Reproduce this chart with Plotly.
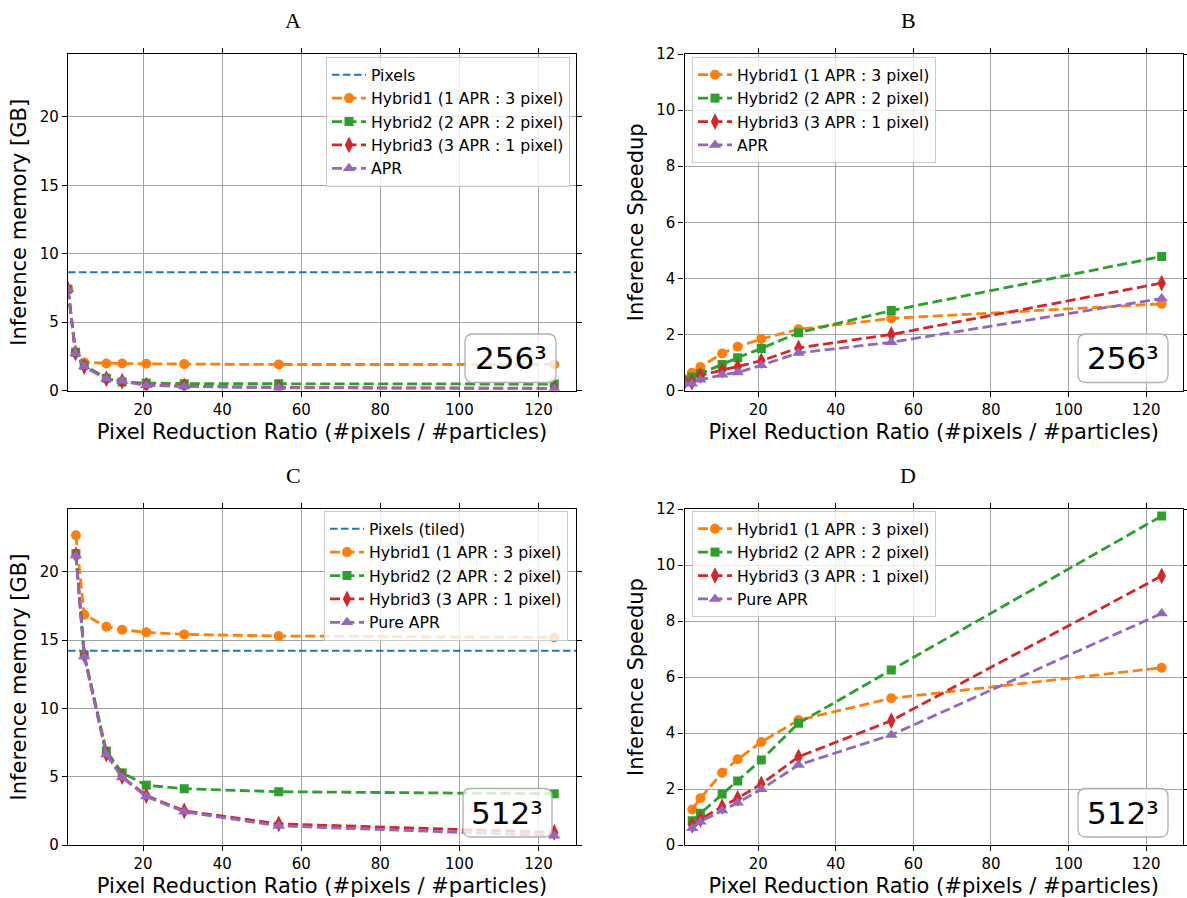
import plotly.graph_objects as go

# ---------------- data ----------------
x_256 = [1, 2.9, 5.1, 10.7, 14.7, 20.8, 30.4, 54.3, 124]
x_512 = [3.0, 5.1, 10.7, 14.7, 20.8, 30.4, 54.3, 124]

# A: inference memory [GB], 256^3
mem256_pixels = 8.65
mem256_h1 = [7.4, 2.75, 2.05, 1.98, 1.97, 1.95, 1.93, 1.9, 1.9]
mem256_h2 = [7.4, 2.8, 1.85, 0.9, 0.62, 0.55, 0.5, 0.5, 0.47]
mem256_h3 = [7.4, 2.75, 1.75, 0.85, 0.68, 0.4, 0.32, 0.22, 0.16]
mem256_apr = [7.4, 2.7, 1.75, 0.85, 0.7, 0.38, 0.3, 0.2, 0.15]

# B: inference speedup, 256^3
sp256_h1 = [0.4, 0.63, 0.84, 1.32, 1.56, 1.84, 2.18, 2.57, 3.09]
sp256_h2 = [0.35, 0.48, 0.6, 0.93, 1.17, 1.5, 2.06, 2.85, 4.78]
sp256_h3 = [0.3, 0.3, 0.54, 0.72, 0.84, 1.06, 1.52, 2.0, 3.83]
sp256_apr = [0.25, 0.24, 0.38, 0.56, 0.64, 0.9, 1.34, 1.72, 3.28]

# C: inference memory [GB], 512^3
mem512_pixels = 14.23
mem512_h1 = [22.68, 16.86, 15.98, 15.76, 15.57, 15.42, 15.3, 15.2]
mem512_h2 = [21.33, 13.93, 6.88, 5.28, 4.38, 4.12, 3.9, 3.75]
mem512_h3 = [21.25, 13.9, 6.65, 5.0, 3.62, 2.5, 1.55, 0.92]
mem512_apr = [21.2, 13.8, 6.62, 4.95, 3.55, 2.43, 1.4, 0.68]

# D: inference speedup, 512^3
sp512_h1 = [1.27, 1.67, 2.58, 3.06, 3.68, 4.46, 5.24, 6.33]
sp512_h2 = [0.87, 1.13, 1.82, 2.29, 3.04, 4.35, 6.25, 11.75]
sp512_h3 = [0.7, 0.92, 1.37, 1.67, 2.18, 3.15, 4.44, 9.61]
sp512_apr = [0.6, 0.83, 1.23, 1.51, 1.99, 2.86, 3.93, 8.27]

labels_A = ["Pixels", "Hybrid1 (1 APR : 3 pixel)", "Hybrid2 (2 APR : 2 pixel)",
            "Hybrid3 (3 APR : 1 pixel)", "APR"]
labels_C = ["Pixels (tiled)", "Hybrid1 (1 APR : 3 pixel)", "Hybrid2 (2 APR : 2 pixel)",
            "Hybrid3 (3 APR : 1 pixel)", "Pure APR"]
panel_titles = ["A", "B", "C", "D"]
size_labels = ["256³", "256³", "512³", "512³"]
x_ticks = [20, 40, 60, 80, 100, 120]

# ---------------- style ----------------
W, H = 1187, 898
C_BLUE, C_OR, C_GR, C_RD, C_PU = "#1f77b4", "#ff7f0e", "#2ca02c", "#d62728", "#9467bd"
FONT = "DejaVu Sans"
DASH = "10px,4.5px"
series_style = [
    (C_OR, "circle", 10),
    (C_GR, "square", 9),
    (C_RD, "diamond-tall", 12),
    (C_PU, "triangle-up", 11),
]

def px_x(p):
    return p / W

def px_y(p):
    return 1 - p / H

col_dom = [[px_x(68), px_x(576)], [px_x(684.5), px_x(1183)]]
row_dom = [[px_y(390.5), px_y(54)], [px_y(845), px_y(509)]]

fig = go.Figure()

def add_panel(idx, xs, ys_list, labels, pixel_val, legend_name):
    ax = "" if idx == 1 else str(idx)
    xref, yref = "x" + ax, "y" + ax
    if pixel_val is not None:
        fig.add_trace(go.Scatter(
            x=[1, 130], y=[pixel_val, pixel_val], mode="lines", name=labels[0],
            line=dict(color=C_BLUE, width=2, dash="7.5px,3.5px"),
            xaxis=xref, yaxis=yref, legend=legend_name))
    names = labels[1:]
    for (col, sym, sz), ys, nm in zip(series_style, ys_list, names):
        fig.add_trace(go.Scatter(
            x=xs, y=ys, mode="lines+markers", name=nm,
            line=dict(color=col, width=2.8, dash=DASH),
            marker=dict(color=col, symbol=sym, size=sz),
            xaxis=xref, yaxis=yref, legend=legend_name))

add_panel(1, x_256, [mem256_h1, mem256_h2, mem256_h3, mem256_apr], labels_A, mem256_pixels, "legend")
add_panel(2, x_256, [sp256_h1, sp256_h2, sp256_h3, sp256_apr], labels_A, None, "legend2")
add_panel(3, x_512, [mem512_h1, mem512_h2, mem512_h3, mem512_apr], labels_C, mem512_pixels, "legend3")
add_panel(4, x_512, [sp512_h1, sp512_h2, sp512_h3, sp512_apr], labels_C, None, "legend4")

axis_common = dict(
    showline=True, linecolor="black", linewidth=1.2, mirror="ticks",
    ticks="outside", ticklen=5, tickwidth=1, tickcolor="black",
    showgrid=True, gridcolor="#a3a3a3", gridwidth=1, zeroline=False,
    automargin=False,
    tickfont=dict(family=FONT, size=15, color="black"),
)
title_font = dict(family=FONT, size=21, color="black")

layout = dict(
    template="none",
    width=W, height=H, autosize=False,
    margin=dict(l=0, r=0, t=0, b=0, pad=0, autoexpand=False),
    paper_bgcolor="white", plot_bgcolor="white",
    font=dict(family=FONT, color="black"),
)
positions = {1: (0, 0), 2: (1, 0), 3: (0, 1), 4: (1, 1)}
for i in range(1, 5):
    c, r = positions[i]
    ax = "" if i == 1 else str(i)
    is_mem = i in (1, 3)
    layout["xaxis" + ax] = dict(
        axis_common, domain=col_dom[c], anchor="y" + ax, range=[1, 129.5],
        tickvals=x_ticks,
        title=dict(text="Pixel Reduction Ratio (#pixels / #particles)", font=title_font, standoff=6),
    )
    layout["yaxis" + ax] = dict(
        axis_common, domain=row_dom[r], anchor="x" + ax,
        range=[0, 24.6] if is_mem else [0, 12],
        tick0=0, dtick=5 if is_mem else 2,
        title=dict(text="Inference memory [GB]" if is_mem else "Inference Speedup",
                   font=title_font, standoff=7 if is_mem else 6),
    )

leg_common = dict(
    bgcolor="rgba(255,255,255,0.8)", bordercolor="#cccccc", borderwidth=1,
    font=dict(family=FONT, size=15.7, color="black"), itemwidth=34,
    yanchor="top",
)
layout["legend"] = dict(leg_common, x=px_x(570), xanchor="right", y=px_y(57))
layout["legend2"] = dict(leg_common, x=px_x(692), xanchor="left", y=px_y(57))
layout["legend3"] = dict(leg_common, x=px_x(568), xanchor="right", y=px_y(511))
layout["legend4"] = dict(leg_common, x=px_x(692), xanchor="left", y=px_y(511))

annotations = []
title_pos = [(293, 20), (908, 20), (293, 475), (908, 475)]
for t, (tx, ty) in zip(panel_titles, title_pos):
    annotations.append(dict(
        text=t, x=px_x(tx), y=px_y(ty), xref="paper", yref="paper",
        showarrow=False, xanchor="center", yanchor="middle",
        font=dict(family="Liberation Serif", size=22, color="black")))

# rounded boxes (left, right, top, bottom in px) for the size labels
boxes = [(465, 556, 334, 382.5), (1078, 1168, 334, 382.5),
         (463, 552, 788.5, 837), (1078, 1168, 788.5, 837)]
shapes = []
R = 8
for (l, r_, t, b), lab in zip(boxes, size_labels):
    pts = (
        f"M {px_x(l + R)},{px_y(t)} L {px_x(r_ - R)},{px_y(t)} "
        f"Q {px_x(r_)},{px_y(t)} {px_x(r_)},{px_y(t + R)} "
        f"L {px_x(r_)},{px_y(b - R)} Q {px_x(r_)},{px_y(b)} {px_x(r_ - R)},{px_y(b)} "
        f"L {px_x(l + R)},{px_y(b)} Q {px_x(l)},{px_y(b)} {px_x(l)},{px_y(b - R)} "
        f"L {px_x(l)},{px_y(t + R)} Q {px_x(l)},{px_y(t)} {px_x(l + R)},{px_y(t)} Z"
    )
    shapes.append(dict(type="path", path=pts, xref="paper", yref="paper", layer="above",
                       fillcolor="rgba(255,255,255,0.8)", line=dict(color="#b0b0b0", width=1.3)))
    annotations.append(dict(
        text=lab, x=px_x((l + r_) / 2), y=px_y((t + b) / 2), xref="paper", yref="paper",
        showarrow=False, xanchor="center", yanchor="middle",
        font=dict(family=FONT, size=31, color="black")))
layout["annotations"] = annotations
layout["shapes"] = shapes

fig.update_layout(**layout)
fig.write_html("out.html", config={"displayModeBar": False},
               post_script="document.body.style.margin='0px';")
